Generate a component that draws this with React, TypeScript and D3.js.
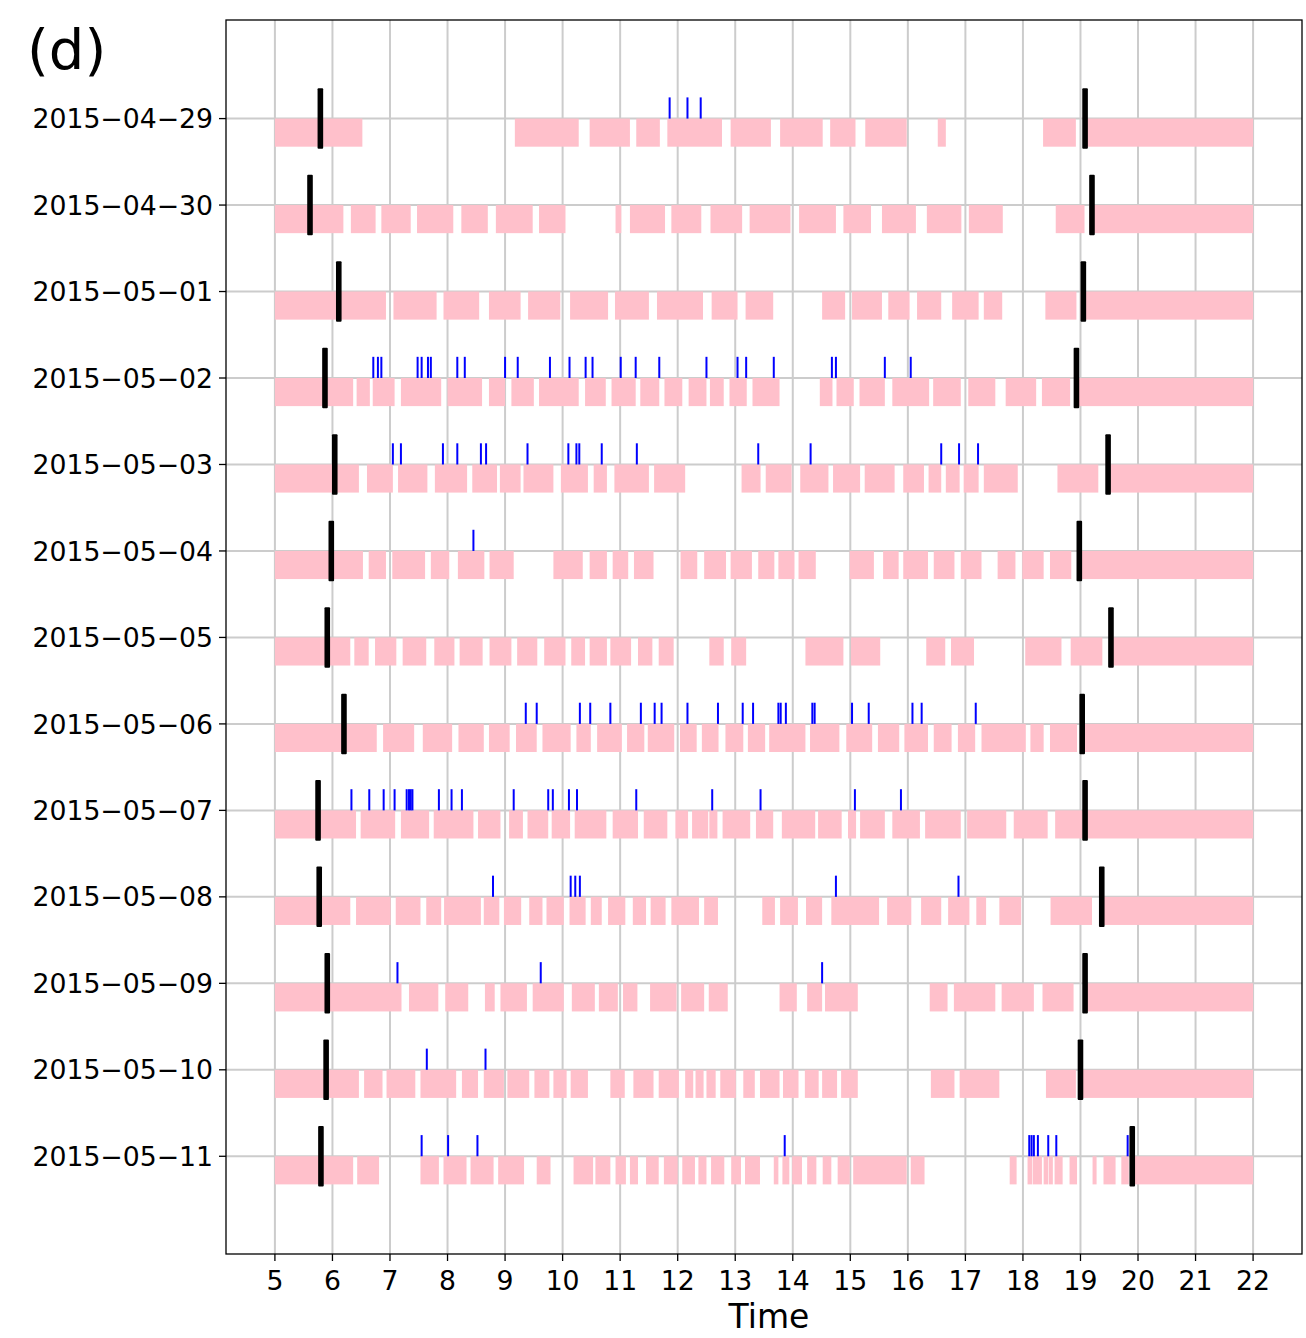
import React from "react";
import * as d3 from "d3";

// Day labels, one row each
const dates = [
  "2015-04-29", "2015-04-30", "2015-05-01", "2015-05-02", "2015-05-03",
  "2015-05-04", "2015-05-05", "2015-05-06", "2015-05-07", "2015-05-08",
  "2015-05-09", "2015-05-10", "2015-05-11",
];

// Hour ticks on the time axis
const hourTicks = [5, 6, 7, 8, 9, 10, 11, 12, 13, 14, 15, 16, 17, 18, 19, 20, 21, 22];

// Thick black markers: morning and evening, per day (hours)
const morningMarks = [5.79, 5.61, 6.11, 5.87, 6.04, 5.98, 5.91, 6.2, 5.75, 5.77, 5.91, 5.89, 5.8];
const eveningMarks = [19.08, 19.2, 19.05, 18.93, 19.48, 18.98, 19.53, 19.03, 19.08, 19.37, 19.08, 19.0, 19.9];

// Pink activity intervals [start, end] in hours, per day
const act0429 = [[5.0, 6.52], [9.17, 10.28], [10.47, 11.17], [11.28, 11.69], [11.82, 12.77], [12.92, 13.62], [13.78, 14.52], [14.65, 15.09], [15.26, 15.98], [16.52, 16.66], [18.35, 18.92], [19.05, 22]];
const act0430 = [[5.0, 6.19], [6.32, 6.75], [6.85, 7.36], [7.47, 8.1], [8.24, 8.7], [8.84, 9.48], [9.59, 10.05], [10.92, 11.02], [11.17, 11.78], [11.89, 12.41], [12.57, 13.12], [13.25, 13.96], [14.11, 14.75], [14.88, 15.36], [15.55, 16.14], [16.33, 16.93], [17.06, 17.65], [18.57, 19.07], [19.15, 22]];
const act0501 = [[5.0, 6.93], [7.06, 7.81], [7.93, 8.55], [8.72, 9.27], [9.4, 9.96], [10.13, 10.79], [10.91, 11.5], [11.64, 12.44], [12.59, 13.04], [13.18, 13.66], [14.51, 14.91], [15.03, 15.55], [15.66, 16.03], [16.16, 16.58], [16.77, 17.23], [17.32, 17.64], [18.39, 18.93], [19.0, 22]];
const act0502 = [[5.0, 6.36], [6.42, 6.65], [6.7, 7.08], [7.19, 7.89], [8.0, 8.6], [8.72, 9.0], [9.11, 9.5], [9.59, 10.28], [10.39, 10.75], [10.85, 11.27], [11.35, 11.68], [11.77, 12.08], [12.19, 12.5], [12.56, 12.8], [12.9, 13.2], [13.3, 13.77], [14.47, 14.69], [14.76, 15.06], [15.16, 15.6], [15.73, 16.37], [16.44, 16.92], [17.05, 17.52], [17.7, 18.23], [18.33, 18.82], [18.95, 22]];
const act0503 = [[5.0, 6.46], [6.6, 7.05], [7.14, 7.65], [7.78, 8.34], [8.43, 8.86], [8.91, 9.27], [9.32, 9.84], [9.97, 10.44], [10.54, 10.77], [10.9, 11.5], [11.59, 12.13], [13.11, 13.44], [13.53, 13.98], [14.13, 14.62], [14.7, 15.17], [15.25, 15.77], [15.92, 16.28], [16.36, 16.58], [16.66, 16.9], [16.97, 17.23], [17.32, 17.91], [18.6, 19.31], [19.45, 22]];
const act0504 = [[5.0, 6.53], [6.63, 6.93], [7.04, 7.61], [7.71, 8.03], [8.18, 8.64], [8.73, 9.15], [9.84, 10.35], [10.47, 10.77], [10.87, 11.14], [11.24, 11.58], [12.05, 12.34], [12.46, 12.84], [12.92, 13.29], [13.4, 13.68], [13.75, 14.03], [14.1, 14.4], [14.99, 15.41], [15.57, 15.84], [15.92, 16.35], [16.45, 16.81], [16.92, 17.28], [17.56, 17.87], [17.99, 18.36], [18.47, 18.84], [18.96, 22]];
const act0505 = [[5.0, 6.31], [6.38, 6.63], [6.74, 7.11], [7.22, 7.63], [7.77, 8.12], [8.21, 8.61], [8.73, 9.11], [9.21, 9.56], [9.68, 10.05], [10.15, 10.39], [10.47, 10.77], [10.83, 11.19], [11.31, 11.56], [11.67, 11.93], [12.55, 12.8], [12.93, 13.19], [14.22, 14.88], [15.01, 15.52], [16.32, 16.65], [16.75, 17.15], [18.04, 18.67], [18.83, 19.38], [19.5, 22]];
const act0506 = [[5.0, 6.77], [6.88, 7.42], [7.57, 8.08], [8.19, 8.63], [8.72, 9.08], [9.19, 9.55], [9.65, 10.14], [10.24, 10.49], [10.6, 11.03], [11.12, 11.42], [11.48, 11.94], [12.04, 12.33], [12.42, 12.71], [12.83, 13.14], [13.22, 13.52], [13.59, 14.22], [14.3, 14.81], [14.93, 15.38], [15.48, 15.85], [15.94, 16.35], [16.45, 16.76], [16.87, 17.17], [17.28, 18.05], [18.13, 18.36], [18.47, 18.94], [19.0, 22]];
const act0507 = [[5.0, 6.41], [6.49, 7.09], [7.19, 7.68], [7.76, 8.45], [8.53, 8.92], [9.07, 9.31], [9.39, 9.75], [9.81, 10.13], [10.21, 10.76], [10.87, 11.31], [11.41, 11.82], [11.96, 12.18], [12.25, 12.53], [12.55, 12.69], [12.78, 13.26], [13.36, 13.66], [13.81, 14.39], [14.44, 14.85], [14.96, 15.1], [15.17, 15.6], [15.73, 16.21], [16.3, 16.92], [17.03, 17.71], [17.84, 18.43], [18.56, 19.04], [19.06, 22]];
const act0508 = [[5.0, 6.31], [6.41, 7.01], [7.1, 7.53], [7.63, 7.89], [7.94, 8.58], [8.63, 8.9], [8.98, 9.28], [9.42, 9.65], [9.72, 10.02], [10.12, 10.4], [10.49, 10.68], [10.79, 11.09], [11.22, 11.45], [11.53, 11.79], [11.89, 12.37], [12.46, 12.7], [13.47, 13.69], [13.78, 14.09], [14.23, 14.51], [14.67, 15.5], [15.64, 16.06], [16.23, 16.58], [16.7, 17.07], [17.19, 17.36], [17.59, 17.97], [18.48, 19.2], [19.38, 22]];
const act0509 = [[5.0, 7.2], [7.33, 7.84], [7.96, 8.36], [8.65, 8.82], [8.92, 9.38], [9.48, 10.02], [10.16, 10.56], [10.63, 10.96], [11.05, 11.3], [11.52, 11.98], [12.06, 12.46], [12.54, 12.87], [13.77, 14.07], [14.25, 14.51], [14.56, 15.13], [16.38, 16.69], [16.8, 17.52], [17.63, 18.19], [18.34, 18.88], [19.05, 22]];
const act0510 = [[5.0, 6.46], [6.55, 6.87], [6.94, 7.44], [7.53, 8.15], [8.25, 8.53], [8.63, 8.98], [9.04, 9.42], [9.51, 9.77], [9.84, 10.07], [10.14, 10.44], [10.83, 11.08], [11.23, 11.58], [11.67, 12.02], [12.13, 12.27], [12.31, 12.45], [12.5, 12.66], [12.74, 13.01], [13.14, 13.34], [13.43, 13.77], [13.83, 14.1], [14.21, 14.45], [14.51, 14.77], [14.84, 15.13], [16.4, 16.81], [16.9, 17.59], [18.4, 18.92], [19.0, 22]];
const act0511 = [[5.0, 6.36], [6.43, 6.81], [7.53, 7.85], [7.93, 8.33], [8.4, 8.8], [8.88, 9.33], [9.55, 9.79], [10.19, 10.53], [10.57, 10.83], [10.92, 11.1], [11.17, 11.31], [11.45, 11.67], [11.76, 12.0], [12.08, 12.3], [12.36, 12.5], [12.58, 12.81], [12.93, 13.1], [13.17, 13.43], [13.67, 13.75], [13.82, 13.94], [13.99, 14.16], [14.25, 14.41], [14.52, 14.67], [14.78, 14.99], [15.05, 15.98], [16.05, 16.29], [17.77, 17.89], [18.08, 18.16], [18.17, 18.33], [18.36, 18.44], [18.45, 18.52], [18.55, 18.69], [18.81, 18.94], [19.21, 19.28], [19.4, 19.61], [19.71, 19.84], [19.9, 22]];

// Blue event ticks in hours, per day
const ev0429 = [11.86, 12.17, 12.4];
const ev0430: number[] = [];
const ev0501: number[] = [];
const ev0502 = [6.71, 6.79, 6.85, 7.48, 7.55, 7.66, 7.71, 8.17, 8.3, 9.0, 9.22, 9.78, 10.12, 10.4, 10.52, 11.01, 11.27, 11.68, 12.5, 13.04, 13.19, 13.67, 14.68, 14.75, 15.6, 16.05];
const ev0503 = [7.05, 7.19, 7.92, 8.17, 8.58, 8.67, 9.39, 10.1, 10.24, 10.29, 10.68, 11.29, 13.4, 14.31, 16.58, 16.89, 17.22];
const ev0504 = [8.45];
const ev0505: number[] = [];
const ev0506 = [9.36, 9.55, 10.3, 10.48, 10.83, 11.36, 11.6, 11.72, 12.17, 12.7, 13.13, 13.31, 13.75, 13.79, 13.88, 14.34, 14.38, 15.03, 15.32, 16.08, 16.24, 17.18];
const ev0507 = [6.33, 6.64, 6.89, 7.08, 7.29, 7.33, 7.36, 7.39, 7.85, 8.07, 8.25, 9.15, 9.75, 9.83, 10.11, 10.25, 11.28, 12.6, 13.44, 15.08, 15.88];
const ev0508 = [8.79, 10.14, 10.22, 10.3, 14.75, 16.88];
const ev0509 = [7.13, 9.62, 14.51];
const ev0510 = [7.64, 8.66];
const ev0511 = [7.55, 8.01, 8.52, 13.86, 18.11, 18.15, 18.19, 18.26, 18.44, 18.58, 19.82];

const activityRows = [act0429, act0430, act0501, act0502, act0503, act0504, act0505, act0506, act0507, act0508, act0509, act0510, act0511];
const eventRows = [ev0429, ev0430, ev0501, ev0502, ev0503, ev0504, ev0505, ev0506, ev0507, ev0508, ev0509, ev0510, ev0511];

const W = 1306;
const H = 1338;
const plot = { left: 226, right: 1302, top: 20, bottom: 1254 };
const FONT = "'DejaVu Sans', Verdana, sans-serif";

export default function App() {
  const x = d3.scaleLinear().domain([4.15, 22.85]).range([plot.left, plot.right]);
  const y = d3.scaleLinear().domain([-1.14, 13.13]).range([plot.top, plot.bottom]);
  const rowIdx = d3.range(dates.length);
  const labelFor = (s: string) => s.replace(/-/g, "\u2212");

  return (
    <svg
      width={W}
      height={H}
      style={{ position: "absolute", left: 0, top: 0, background: "#fff" }}
      fontFamily={FONT}
    >
      <rect x={0} y={0} width={W} height={H} fill="#fff" />

      {/* grid */}
      <g stroke="#cccccc" strokeWidth={2}>
        {hourTicks.map((h) => (
          <line key={"gx" + h} x1={x(h)} x2={x(h)} y1={plot.top} y2={plot.bottom} />
        ))}
        {rowIdx.map((i) => (
          <line key={"gy" + i} x1={plot.left} x2={plot.right} y1={y(i)} y2={y(i)} />
        ))}
      </g>

      {/* activity intervals */}
      <g fill="pink">
        {activityRows.map((segs, i) =>
          segs.map(([a, b], j) => (
            <rect
              key={`a${i}-${j}`}
              x={x(a)}
              y={y(i)}
              width={x(b) - x(a)}
              height={y(i + 0.325) - y(i)}
            />
          ))
        )}
      </g>

      {/* event ticks */}
      <g stroke="blue" strokeWidth={2}>
        {eventRows.map((evs, i) =>
          evs.map((t, j) => (
            <line key={`e${i}-${j}`} x1={x(t)} x2={x(t)} y1={y(i - 0.245)} y2={y(i)} />
          ))
        )}
      </g>

      {/* morning / evening markers */}
      <g fill="#000">
        {rowIdx.map((i) => (
          <React.Fragment key={"m" + i}>
            <rect x={x(morningMarks[i]) - 2.8} y={y(i - 0.35)} width={5.6} height={y(i + 0.35) - y(i - 0.35)} rx={1} />
            <rect x={x(eveningMarks[i]) - 2.8} y={y(i - 0.35)} width={5.6} height={y(i + 0.35) - y(i - 0.35)} rx={1} />
          </React.Fragment>
        ))}
      </g>

      {/* frame */}
      <rect
        x={plot.left}
        y={plot.top}
        width={plot.right - plot.left}
        height={plot.bottom - plot.top}
        fill="none"
        stroke="#000"
        strokeWidth={1.3}
      />

      {/* y axis */}
      <g>
        {rowIdx.map((i) => (
          <g key={"yt" + i}>
            <line x1={plot.left - 7} x2={plot.left} y1={y(i)} y2={y(i)} stroke="#000" strokeWidth={1.3} />
            <text x={plot.left - 13} y={y(i)} dy="0.36em" textAnchor="end" fontSize={26.7} fill="#000">
              {labelFor(dates[i])}
            </text>
          </g>
        ))}
      </g>

      {/* x axis */}
      <g>
        {hourTicks.map((h) => (
          <g key={"xt" + h}>
            <line x1={x(h)} x2={x(h)} y1={plot.bottom} y2={plot.bottom + 7} stroke="#000" strokeWidth={1.3} />
            <text x={x(h)} y={plot.bottom + 36} textAnchor="middle" fontSize={26.7} fill="#000">
              {h}
            </text>
          </g>
        ))}
        <text x={769} y={1328} textAnchor="middle" fontSize={33} fill="#000">
          Time
        </text>
      </g>

      <text x={27} y={69} fontSize={56} fill="#000">
        (d)
      </text>
    </svg>
  );
}
